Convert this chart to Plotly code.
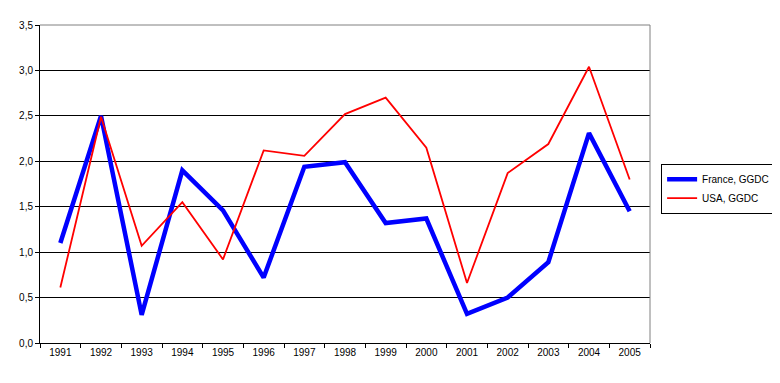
import plotly.graph_objects as go

years = ["1991", "1992", "1993", "1994", "1995", "1996", "1997", "1998",
         "1999", "2000", "2001", "2002", "2003", "2004", "2005"]
france = [1.10, 2.50, 0.31, 1.90, 1.46, 0.72, 1.94, 1.99, 1.32, 1.37, 0.32, 0.50, 0.89, 2.31, 1.45]
usa = [0.61, 2.49, 1.07, 1.55, 0.92, 2.12, 2.06, 2.52, 2.70, 2.15, 0.66, 1.87, 2.19, 3.04, 1.80]
y_ticks = [0, 0.5, 1.0, 1.5, 2.0, 2.5, 3.0, 3.5]

font_family = "Liberation Sans, Arial, sans-serif"

fig = go.Figure()
fig.add_trace(go.Scatter(x=years, y=france, mode="lines", name="France, GGDC",
                         line=dict(color="#0000FF", width=4.5)))
fig.add_trace(go.Scatter(x=years, y=usa, mode="lines", name="USA, GGDC",
                         line=dict(color="#FF0000", width=1.8)))

fig.update_layout(
    width=772, height=375,
    margin=dict(l=32, r=130, t=17, b=40, autoexpand=False),
    paper_bgcolor="white", plot_bgcolor="white",
    separators=", ",
    font=dict(family=font_family, size=10, color="black"),
    showlegend=True,
    legend=dict(xref="container", yref="container", x=0.846, y=0.585,
                xanchor="left", yanchor="top",
                bordercolor="black", borderwidth=1, bgcolor="white",
                font=dict(size=10, family=font_family),
                tracegroupgap=0, itemwidth=30),
    xaxis=dict(type="category", tickson="boundaries", ticks="outside", ticklen=4,
               tickcolor="black", showline=True, linecolor="black", linewidth=1,
               showgrid=False, range=[-0.5, 14.5], tickfont=dict(size=10)),
    yaxis=dict(range=[0, 3.5], tickvals=y_ticks, tickformat=".1f", ticks="outside",
               ticklen=4, tickcolor="black", showline=True, linecolor="black",
               linewidth=1, showgrid=True, gridcolor="black", gridwidth=1,
               zeroline=False, tickfont=dict(size=10)),
    shapes=[
        dict(type="line", xref="paper", yref="paper", x0=0, x1=1, y0=1, y1=1,
             line=dict(color="#808080", width=1), layer="above"),
        dict(type="line", xref="paper", yref="paper", x0=1, x1=1, y0=0, y1=1,
             line=dict(color="#808080", width=1), layer="above"),
    ],
)

fig.write_html("out.html")
